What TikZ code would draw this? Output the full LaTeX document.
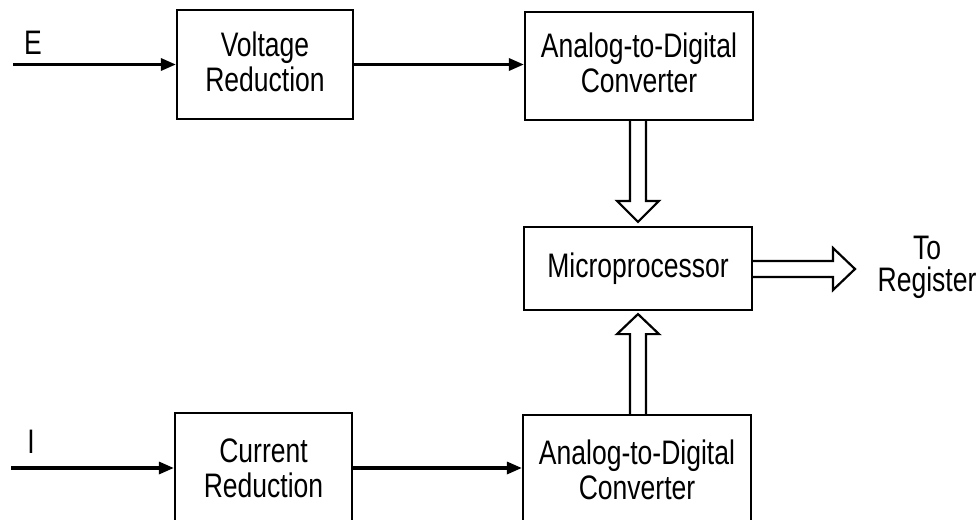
\documentclass[tikz,border=0pt]{standalone}
\usepackage{fontspec}
\setmainfont{Liberation Sans}[FakeStretch=0.78]
\usetikzlibrary{arrows.meta,calc}
\begin{document}
\begin{tikzpicture}[x=1pt,y=-1pt,
  box/.style={draw,line width=2.2pt,align=center,inner sep=0pt,
    font=\fontsize{34}{35}\selectfont},
  lbl/.style={inner sep=0pt,align=center,font=\fontsize{34}{32}\selectfont},
  sig/.style={line width=3.2pt,-{Triangle[length=15pt,width=12pt]}},
  hollow/.style={draw,line width=2.2pt,line join=miter}]
\useasboundingbox (0,0) rectangle (979,519);
\node[box,minimum width=176pt,minimum height=109pt] (vr) at (265,64.5) {Voltage\\Reduction\rule[-6pt]{0pt}{0pt}};
\node[box,minimum width=228pt,minimum height=108pt] (adc1) at (639,66) {Analog-to-Digital\\Converter\rule[-6pt]{0pt}{0pt}};
\node[box,minimum width=228pt,minimum height=83pt] (mp) at (638,268.5) {Microprocessor};
\node[box,minimum width=177pt,minimum height=110pt] (cr) at (263.5,468) {Current\\Reduction};
\node[box,minimum width=228pt,minimum height=110pt] (adc2) at (637,470) {Analog-to-Digital\\Converter};
\node[lbl] (elab) at (33,43) {E};
\node[lbl] (ilab) at (31,442) {I};
\node[lbl] (reg) at (927,267) {To\\Register};
\coordinate (ein) at (13,64.5);
\coordinate (iin) at (11,468);
\coordinate (out) at (855,269);
% thin signal arrows
\draw[sig] (ein) -- (vr.west);
\draw[sig] (vr.east) -- (vr.east -| adc1.west);
\draw[sig] (iin) -- (cr.west);
\draw[sig] (cr.east) -- (cr.east -| adc2.west);
% hollow arrow down: ADC1 -> Microprocessor
\coordinate (t1) at ($(mp.north)+(0,-4)$);
\draw[hollow] ($(adc1.south -| t1)+(-8,0)$) -- ($(t1)+(-8,-21)$) -- ($(t1)+(-21,-21)$)
  -- (t1) -- ($(t1)+(21,-21)$) -- ($(t1)+(8,-21)$) -- ($(adc1.south -| t1)+(8,0)$);
% hollow arrow up: ADC2 -> Microprocessor
\coordinate (t2) at ($(mp.south)+(0,3)$);
\draw[hollow] ($(adc2.north -| t2)+(-8,0)$) -- ($(t2)+(-8,20)$) -- ($(t2)+(-21,20)$)
  -- (t2) -- ($(t2)+(21,20)$) -- ($(t2)+(8,20)$) -- ($(adc2.north -| t2)+(8,0)$);
% hollow arrow right: Microprocessor -> To Register
\draw[hollow] ($(mp.east |- out)+(0,-8)$) -- ($(out)+(-22,-8)$) -- ($(out)+(-22,-21)$)
  -- (out) -- ($(out)+(-22,21)$) -- ($(out)+(-22,8)$) -- ($(mp.east |- out)+(0,8)$);
\end{tikzpicture}
\end{document}
